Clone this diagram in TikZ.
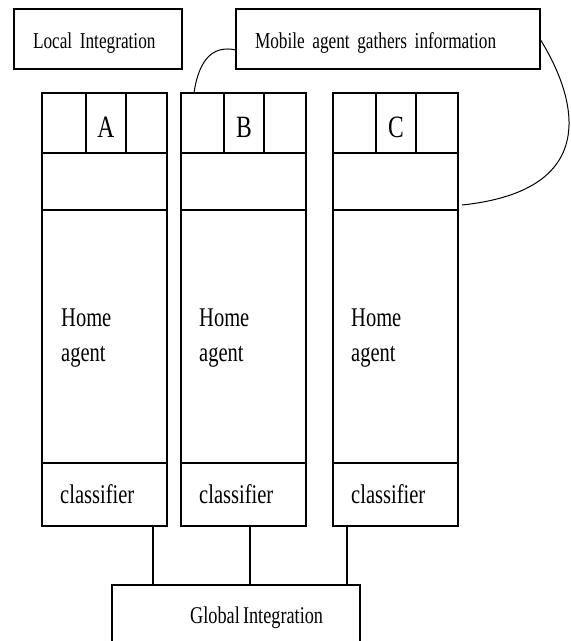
\documentclass[tikz,border=0pt]{standalone}
\usepackage{fontspec}
\newfontfamily\diagfont[FakeStretch=0.76,WordSpace=0.7]{Liberation Serif}
\usetikzlibrary{positioning,calc}
\tikzset{
  box/.style={draw, line width=1.5pt, inner sep=0pt, outer sep=0pt, anchor=north west},
  titlebox/.style={box, align=left, inner xsep=19pt, minimum height=60pt, text height=18pt, text depth=0pt,
    font=\diagfont\fontsize{22.7}{27}\selectfont},
  cell/.style={box, minimum width=125pt},
  letter/.style={box, minimum width=40pt, minimum height=60pt, text height=29pt, text depth=0pt,
    font=\diagfont\fontsize{31}{35}\selectfont},
  lbl/.style={inner sep=0pt, align=left, font=\diagfont\fontsize{27}{35}\selectfont},
  link/.style={line width=1pt},
  wire/.style={line width=1.5pt},
}
\begin{document}
\begin{tikzpicture}[x=1pt,y=-1pt]
    \useasboundingbox (0,0) rectangle (571,641);
    % titles
    \node[titlebox, text width=130pt] (local) at (14,9) {Local Integration};
    \node[titlebox, text width=266pt] (mobile) at (236,9) {Mobile agent gathers information};
    % column A
    \node[cell, minimum height=60pt] (Ahead) at (42,93) {};
    \node[letter, right=44pt of Ahead.north west, anchor=north west] (Aletter) {A};
    \node[cell, minimum height=57pt, below=0pt of Ahead.south west, anchor=north west] (Amid) {};
    \node[cell, minimum height=253pt, below=0pt of Amid.south west, anchor=north west] (Ahome) {};
    \node[cell, minimum height=63pt, below=0pt of Ahome.south west, anchor=north west] (Aclass) {};
    \node[lbl, anchor=north west] (Ahometxt) at ($(Ahome.north west)+(19,99)$) {Home\\agent};
    \node[lbl, anchor=west] (Aclasstxt) at ($(Aclass.west)+(18,0)$) {classifier};
    % column B
    \node[cell, minimum height=60pt] (Bhead) at (181,93) {};
    \node[letter, right=43pt of Bhead.north west, anchor=north west] (Bletter) {B};
    \node[cell, minimum height=57pt, below=0pt of Bhead.south west, anchor=north west] (Bmid) {};
    \node[cell, minimum height=253pt, below=0pt of Bmid.south west, anchor=north west] (Bhome) {};
    \node[cell, minimum height=63pt, below=0pt of Bhome.south west, anchor=north west] (Bclass) {};
    \node[lbl, anchor=north west] (Bhometxt) at ($(Bhome.north west)+(18,99)$) {Home\\agent};
    \node[lbl, anchor=west] (Bclasstxt) at ($(Bclass.west)+(18,0)$) {classifier};
    % column C
    \node[cell, minimum height=60pt] (Chead) at (333,93) {};
    \node[letter, right=43pt of Chead.north west, anchor=north west] (Cletter) {C};
    \node[cell, minimum height=57pt, below=0pt of Chead.south west, anchor=north west] (Cmid) {};
    \node[cell, minimum height=253pt, below=0pt of Cmid.south west, anchor=north west] (Chome) {};
    \node[cell, minimum height=63pt, below=0pt of Chome.south west, anchor=north west] (Cclass) {};
    \node[lbl, anchor=north west] (Chometxt) at ($(Chome.north west)+(18,99)$) {Home\\agent};
    \node[lbl, anchor=west] (Cclasstxt) at ($(Cclass.west)+(18,0)$) {classifier};
    % global
    \node[box, minimum width=248pt, minimum height=64pt] (global) at (112,585) {};
    \node[inner sep=0pt, anchor=base west, font=\diagfont\fontsize{24}{28}\selectfont] (globaltxt)
        at ($(global.north west)+(78,38)$) {Global Integration};
    % wires to global
    \coordinate (Awire) at ($(Aclass.south west)+(111,0)$);
    \coordinate (Bwire) at ($(Bclass.south west)+(69,0)$);
    \coordinate (Cwire) at ($(Cclass.south west)+(14,0)$);
    \draw[wire] (Awire) -- (Awire |- global.north);
    \draw[wire] (Bwire) -- (Bwire |- global.north);
    \draw[wire] (Cwire) -- (Cwire |- global.north);
    % mobile agent paths
    \draw[link] ($(Bhead.north west)+(13,0)$) .. controls +(5,-35) and +(-22,-5) .. ($(mobile.west)+(0,11)$);
    \draw[link] (mobile.east) .. controls +(35,56) and +(143,-15) .. ($(Cmid.south east)+(4,-5)$);
\end{tikzpicture}
\end{document}
